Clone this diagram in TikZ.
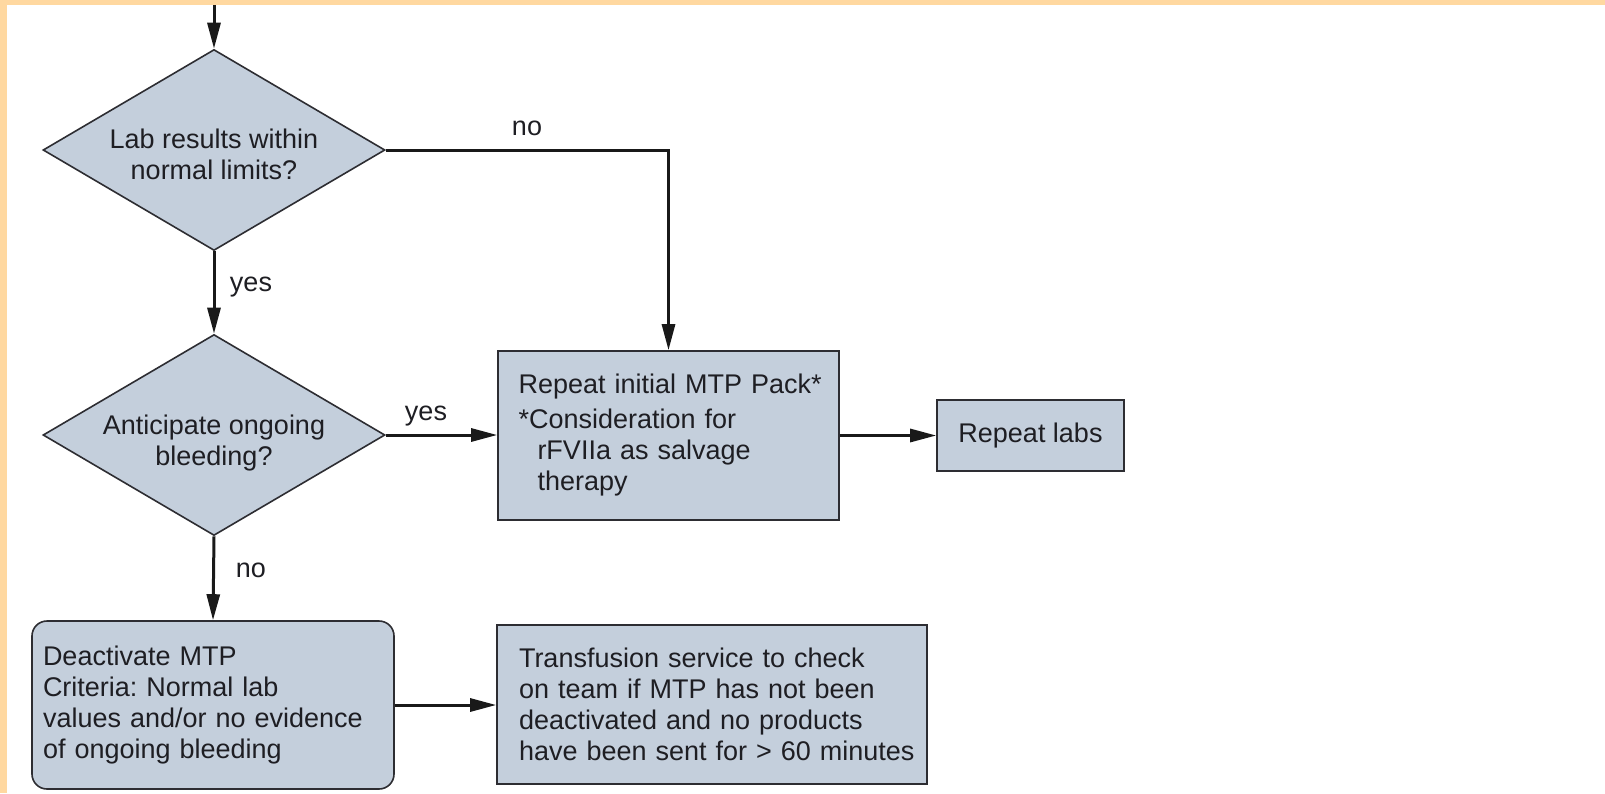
\documentclass[tikz,border=0pt]{standalone}
\usepackage{fontspec}
\setmainfont{Liberation Sans}
\usetikzlibrary{shapes.geometric,arrows.meta}
\definecolor{orangebg}{RGB}{255,216,160}
\definecolor{boxfill}{RGB}{196,207,220}
\definecolor{edgec}{RGB}{45,45,50}
\definecolor{linec}{RGB}{25,25,25}
\definecolor{txtc}{RGB}{30,30,35}
\frenchspacing
\begin{document}
\begin{tikzpicture}[x=1pt,y=-1pt,
  every node/.style={font=\fontsize{27}{31}\selectfont, text=txtc},
  decision/.style={shape=diamond, shape aspect=1.7, draw=edgec, fill=boxfill, line width=1.6pt,
    minimum width=342pt, minimum height=201pt, inner sep=0pt},
  dtext/.style={align=center, inner sep=0pt},
  procbox/.style={rectangle, draw=edgec, fill=boxfill, line width=1.6pt, align=left},
  arr/.style={draw=linec, line width=3pt, -{Triangle[length=26pt,width=13pt]}},
  lbl/.style={inner sep=0pt}
]
\useasboundingbox (0,0) rectangle (1605,793);
\fill[white] (0,0) rectangle (1605,793);
\fill[orangebg] (0,0) rectangle (1605,5);
\fill[orangebg] (0,0) rectangle (7,793);

\coordinate (start) at (214,5);
\node[decision] (d1) at (214,150) {};
\node[dtext] (d1t) at (214,154) {Lab results within\\normal limits?};
\node[decision] (d2) at (214,435) {};
\node[dtext] (d2t) at (214,443) {Anticipate ongoing\\bleeding?};
\node[procbox, text width=300pt, inner xsep=20.5pt, minimum height=169pt] (b1) at (668.5,435.5)
  {\mbox{Repeat initial MTP Pack*}\\[4pt]*Consideration for\\\hspace*{19pt}rFVIIa as salvage\\\hspace*{19pt}therapy};
\node[procbox, minimum width=187pt, minimum height=71pt, align=center] (b2) at (1030.5,435.5) {Repeat labs};
\node[procbox, rounded corners=15pt, text width=340pt, inner xsep=11pt, minimum height=168pt] (b3) at (213,705)
  {Deactivate MTP\\Criteria: Normal lab\\values and/or no evidence\\of ongoing bleeding};
\node[procbox, text width=386pt, inner xsep=22pt, minimum height=159pt] (b4) at (712,704.5)
  {\mbox{Transfusion service to check}\\\mbox{on team if MTP has not been}\\\mbox{deactivated and no products}\\\mbox{have been sent for > 60 minutes}};

\node[lbl] (l1) at (527,128) {no};
\node[lbl] (l2) at (251,287) {yes};
\node[lbl] (l3) at (426,416) {yes};
\node[lbl] (l4) at (251,570) {no};

\draw[arr] (start) -- (d1.north);
\draw[arr] (d1.east) -| (b1.north);
\draw[arr] (d1.south) -- (d2.north);
\draw[arr] (d2.east) -- (d2.east -| b1.west);
\draw[arr] (b1.east) -- (b2.west);
\draw[arr] (d2.south) -- (b3.north);
\draw[arr] (b3.east) -- (b3.east -| b4.west);
\end{tikzpicture}
\end{document}
